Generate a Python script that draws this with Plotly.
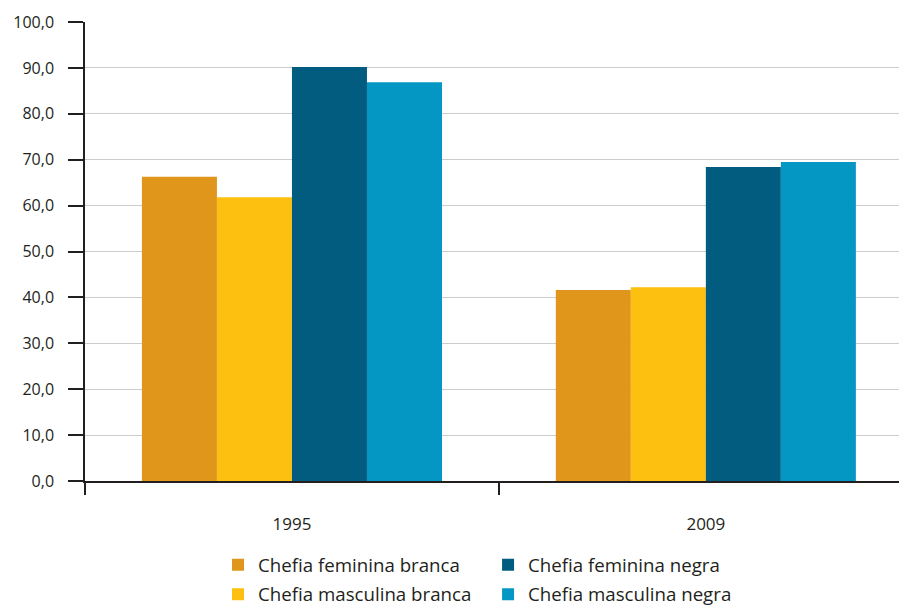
import plotly.graph_objects as go

categories = ["1995", "2009"]
series_names = ["Chefia feminina branca", "Chefia masculina branca",
                "Chefia feminina negra", "Chefia masculina negra"]
fem_branca = [66.3, 41.6]
masc_branca = [61.8, 42.2]
fem_negra = [90.2, 68.4]
masc_negra = [86.9, 69.5]
y_ticks = [0, 10, 20, 30, 40, 50, 60, 70, 80, 90, 100]

colors = ["#E0961A", "#FDC010", "#025C80", "#0497C4"]
legend_ids = ["legend", "legend", "legend2", "legend2"]
values = [fem_branca, masc_branca, fem_negra, masc_negra]

fig = go.Figure()
for i, (name, vals, col, lg) in enumerate(zip(series_names, values, colors, legend_ids)):
    fig.add_trace(go.Bar(x=categories, y=vals, name=name, marker_color=col,
                         marker_line_width=0, legend=lg, legendgroup=f"g{i}"))

font_family = "Open Sans, Noto Sans, sans-serif"
leg_common = dict(orientation="v", xref="container", yref="container",
                  xanchor="left", yanchor="top",
                  font=dict(size=18.7, color="#231F20"),
                  itemclick=False, itemdoubleclick=False,
                  tracegroupgap=2, bgcolor="rgba(0,0,0,0)")
fig.update_layout(
    width=899, height=598,
    margin=dict(l=77, r=0, t=14, b=125, autoexpand=False),
    paper_bgcolor="white", plot_bgcolor="white",
    barmode="group", bargap=0.275, bargroupgap=0,
    separators=",.",
    font=dict(family=font_family, size=16, color="#231F20"),
    showlegend=True,
    legend=dict(x=0.2336, y=0.100, **leg_common),
    legend2=dict(x=0.534, y=0.100, **leg_common),
)
fig.update_xaxes(
    type="category", range=[-0.5, 1.486], automargin=False,
    showline=True, linecolor="#231F20", linewidth=1.5,
    ticks="outside", tickson="boundaries", ticklen=12, tickcolor="#231F20",
    tickwidth=1.5, ticklabelstandoff=27, tickfont=dict(size=17),
    showgrid=False, zeroline=False,
)
fig.update_yaxes(
    range=[0, 100], tickvals=y_ticks, tickformat=".1f", automargin=False,
    showline=True, linecolor="#231F20", linewidth=1.5,
    ticks="outside", ticklen=15, tickcolor="#231F20", tickwidth=1.5,
    ticklabelstandoff=11, tickfont=dict(size=16),
    showgrid=True, gridcolor="#CCCCCC", gridwidth=1,
    zeroline=False,
)

fig.write_html("out.html")
